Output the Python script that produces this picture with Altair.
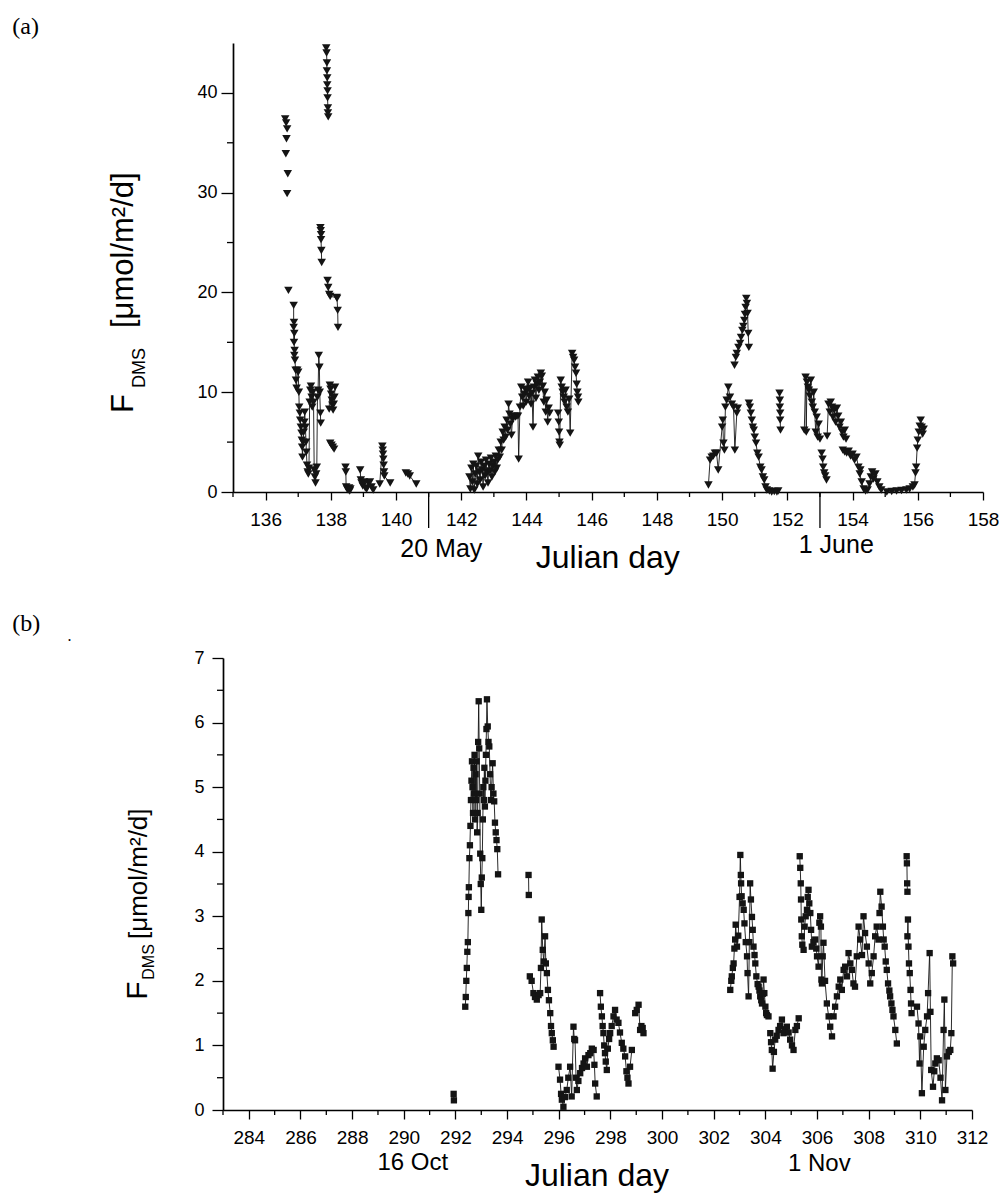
import altair as alt
import pandas as pd

FONT = "Liberation Sans"
SERIF = "Liberation Serif"
INK = "#141414"

# ---------------- Panel (a): Julian day vs F_DMS (umol/m2/d) ----------------
a_isolated = [(136.60, 37.4), (136.63, 37.0), (136.66, 36.4), (136.64, 35.4), (136.62, 33.9),
              (136.68, 31.9), (136.66, 29.9), (136.70, 20.2)]
a_s1 = [(136.86, 18.7), (136.87, 17.0), (136.86, 16.5), (136.88, 15.9), (136.87, 15.0), (136.89, 14.2),
        (136.88, 13.7), (136.90, 13.2), (136.92, 12.2), (136.93, 11.2), (136.95, 10.4), (136.97, 12.2),
        (137.00, 12.0), (137.02, 10.0), (137.03, 8.5), (137.05, 7.9), (137.06, 7.2), (137.08, 6.5),
        (137.10, 5.9), (137.11, 5.2), (137.12, 4.5), (137.13, 3.5), (137.15, 5.0), (137.17, 6.0),
        (137.19, 7.0), (137.20, 8.0), (137.22, 6.5), (137.24, 5.0), (137.25, 4.0), (137.27, 2.7),
        (137.29, 2.0), (137.31, 1.8), (137.33, 2.4), (137.35, 9.0), (137.37, 10.2), (137.39, 10.6),
        (137.41, 9.5), (137.43, 8.5), (137.45, 10.0), (137.47, 9.0), (137.49, 2.2), (137.51, 1.5),
        (137.53, 0.9), (137.55, 1.8), (137.57, 2.5), (137.59, 9.5), (137.61, 10.2), (137.63, 13.7),
        (137.65, 12.5), (137.66, 10.0), (137.68, 7.9), (137.69, 6.9)]
a_s2 = [(137.68, 26.5), (137.69, 26.2), (137.70, 25.8), (137.70, 25.3), (137.71, 24.2), (137.72, 23.0)]
a_s3 = [(137.86, 44.5), (137.87, 44.0), (137.88, 43.0), (137.88, 42.2), (137.89, 41.5), (137.89, 40.8),
        (137.90, 40.2), (137.90, 39.5), (137.91, 38.5), (137.91, 38.0), (137.92, 37.6)]
a_s4 = [(137.90, 21.2), (137.92, 20.5), (137.95, 19.8), (137.98, 19.6), (138.18, 19.5), (138.19, 19.4),
        (138.21, 18.2), (138.22, 16.5)]
a_s5 = [(137.95, 8.3), (137.97, 10.7), (137.99, 10.3), (138.01, 9.8), (138.03, 9.2), (138.05, 8.7),
        (138.07, 8.2), (138.09, 8.8), (138.11, 9.5), (138.13, 10.5)]
a_s6 = [(137.98, 4.9), (138.02, 4.7), (138.06, 4.5), (138.10, 4.3)]
a_s7 = [(138.45, 2.5), (138.46, 2.0), (138.47, 0.5), (138.50, 0.3), (138.53, 0.2), (138.56, 0.4),
        (138.58, 0.1), (138.60, 0.3)]
a_s8 = [(138.90, 2.2), (138.92, 1.2), (138.94, 0.9), (138.98, 0.6), (139.02, 1.0), (139.06, 0.4),
        (139.10, 0.3), (139.15, 0.9), (139.20, 1.0), (139.25, 0.5), (139.30, 0.2)]
a_s9 = [(139.50, 0.8), (139.58, 4.6), (139.59, 4.2), (139.60, 3.8), (139.61, 3.3), (139.62, 2.7),
        (139.63, 2.0), (139.64, 1.6), (139.82, 0.9)]
a_s10 = [(140.30, 1.9), (140.36, 1.8), (140.42, 1.6), (140.62, 0.8)]
a_s11 = [(142.25, 1.5), (142.28, 0.3), (142.31, 2.4), (142.34, 1.0), (142.37, 2.8), (142.40, 0.2),
         (142.43, 1.8), (142.46, 2.6), (142.49, 0.8), (142.52, 3.6), (142.55, 2.0), (142.58, 1.2),
         (142.61, 3.0), (142.64, 2.2), (142.67, 0.5), (142.70, 2.6), (142.73, 1.6), (142.76, 3.2),
         (142.79, 2.0), (142.82, 0.9), (142.85, 2.8), (142.88, 2.1), (142.91, 3.4), (142.94, 1.5),
         (142.97, 2.6), (143.00, 3.0), (143.03, 2.0), (143.06, 3.6), (143.09, 2.4), (143.12, 3.2),
         (143.15, 4.2), (143.18, 3.5), (143.21, 5.0), (143.24, 4.2), (143.27, 6.0), (143.30, 5.2),
         (143.33, 6.5), (143.36, 5.5), (143.39, 7.2), (143.42, 6.2), (143.45, 8.8), (143.48, 7.8),
         (143.51, 6.8), (143.54, 5.7), (143.57, 7.3), (143.60, 7.5), (143.63, 7.6), (143.66, 7.5),
         (143.70, 7.6), (143.74, 7.6), (143.76, 3.3), (143.80, 8.5), (143.84, 10.5), (143.87, 9.5),
         (143.90, 8.6), (143.93, 9.8), (143.96, 10.3), (143.99, 9.0), (144.02, 10.2), (144.05, 11.0),
         (144.08, 9.6), (144.11, 10.4), (144.14, 8.8), (144.17, 9.9), (144.20, 6.5), (144.23, 10.5),
         (144.26, 11.2), (144.29, 9.4), (144.32, 10.8), (144.35, 11.5), (144.38, 10.2), (144.41, 11.0),
         (144.44, 11.9), (144.47, 11.6), (144.50, 10.6), (144.53, 9.0), (144.56, 10.0), (144.59, 8.0),
         (144.62, 9.2), (144.65, 7.0), (144.68, 8.4), (144.71, 7.9)]
a_s12 = [(144.97, 7.9), (144.99, 7.0), (145.00, 6.0), (145.01, 5.0), (145.02, 4.7), (145.05, 11.2),
         (145.08, 10.5), (145.11, 10.0), (145.14, 9.5), (145.17, 9.0), (145.20, 10.2), (145.23, 8.5),
         (145.27, 8.0), (145.31, 9.3), (145.34, 5.9), (145.40, 13.9), (145.43, 13.5), (145.46, 13.2),
         (145.49, 12.5), (145.52, 11.9), (145.54, 10.8), (145.56, 10.0), (145.58, 9.5), (145.59, 9.0)]
a_s13 = [(149.58, 0.7), (149.63, 3.2), (149.68, 3.5), (149.73, 3.6), (149.78, 3.9), (149.83, 3.9),
         (149.88, 2.2), (150.00, 6.5), (150.02, 7.2), (150.04, 4.9), (150.07, 4.2), (150.10, 8.5),
         (150.14, 9.2), (150.19, 10.5), (150.24, 9.5), (150.30, 8.8), (150.35, 8.5), (150.39, 4.2),
         (150.45, 7.9), (150.48, 8.4)]
a_s14 = [(150.38, 12.7), (150.42, 13.5), (150.45, 13.9), (150.50, 14.5), (150.55, 14.9), (150.58, 15.5),
         (150.62, 16.2), (150.65, 16.6), (150.68, 17.2), (150.70, 17.8), (150.72, 18.5), (150.74, 19.4),
         (150.76, 18.9), (150.78, 17.9), (150.80, 15.9), (150.82, 14.5)]
a_s15 = [(150.82, 8.9), (150.85, 8.5), (150.88, 7.9), (150.91, 7.2), (150.94, 6.5), (150.97, 6.2),
         (151.00, 5.5), (151.04, 4.9), (151.08, 3.9), (151.12, 3.5), (151.17, 2.5), (151.21, 2.2),
         (151.25, 1.5), (151.29, 1.2), (151.33, 0.5), (151.37, 0.2), (151.45, 0.1), (151.52, 0.0),
         (151.60, 0.05), (151.68, 0.0), (151.72, 0.1)]
a_s16 = [(151.76, 9.9), (151.77, 9.2), (151.77, 8.5), (151.78, 7.9), (151.78, 7.2), (151.79, 6.2)]
a_s17 = [(152.52, 6.2), (152.56, 11.5), (152.58, 6.0), (152.60, 11.0), (152.63, 10.5), (152.66, 10.2),
         (152.69, 9.6), (152.72, 11.2), (152.75, 9.0), (152.78, 8.5), (152.81, 10.0), (152.84, 8.0),
         (152.87, 6.0), (152.90, 7.5), (152.93, 5.5), (152.96, 6.8), (153.00, 5.3)]
a_s18 = [(153.05, 3.9), (153.08, 3.3), (153.10, 2.5), (153.13, 1.9), (153.16, 1.6), (153.20, 1.2)]
a_s19 = [(153.22, 5.6), (153.26, 8.8), (153.30, 8.0), (153.33, 9.0), (153.37, 8.5), (153.40, 7.5),
         (153.44, 8.2), (153.48, 7.0), (153.52, 8.4), (153.56, 7.6), (153.60, 6.5), (153.64, 7.0),
         (153.68, 6.0), (153.72, 5.5), (153.76, 6.2), (153.80, 5.3)]
a_s20 = [(153.70, 4.2), (153.76, 4.0), (153.82, 3.9), (153.88, 4.1), (153.94, 3.6), (154.00, 3.8),
         (154.06, 3.2), (154.12, 3.5), (154.18, 2.5), (154.24, 2.2)]
a_s21 = [(154.22, 1.8), (154.28, 1.0), (154.34, 0.3), (154.40, 0.1), (154.46, 0.2), (154.52, 0.8),
         (154.56, 1.5), (154.60, 2.0), (154.64, 1.3), (154.70, 1.8), (154.76, 1.0), (154.82, 0.5),
         (154.88, 0.2)]
a_s22 = [(155.05, 0.0), (155.20, 0.05), (155.35, 0.1), (155.50, 0.15), (155.65, 0.2), (155.75, 0.3),
         (155.85, 0.5)]
a_s23 = [(155.90, 0.7), (155.93, 1.9), (155.95, 2.5), (155.98, 4.4), (156.00, 5.2), (156.03, 6.0),
         (156.06, 6.6), (156.09, 7.2), (156.12, 6.5), (156.15, 5.8), (156.18, 6.3)]
a_segments = [a_s1, a_s2, a_s3, a_s4, a_s5, a_s6, a_s7, a_s8, a_s9, a_s10, a_s11, a_s12, a_s13,
              a_s14, a_s15, a_s16, a_s17, a_s18, a_s19, a_s20, a_s21, a_s22, a_s23]

a_major = list(range(136, 159, 2))
a_minor = list(range(135, 158, 2))
a_long = [141, 153]
a_yticks = [0, 10, 20, 30, 40]
a_yminor = [5, 15, 25, 35]

# ---------------- Panel (b) ----------------
b_s0 = [(291.93, 0.25), (291.94, 0.15)]
b_s1 = [(292.38, 1.6), (292.40, 1.75), (292.42, 2.0), (292.44, 2.2), (292.46, 2.45), (292.48, 2.6),
        (292.50, 3.05), (292.51, 3.3), (292.52, 3.45), (292.54, 3.9), (292.56, 4.1), (292.58, 4.4),
        (292.60, 4.8), (292.62, 5.1), (292.64, 5.4), (292.66, 5.0), (292.68, 4.6), (292.70, 5.3),
        (292.72, 4.9), (292.74, 5.5), (292.76, 4.5), (292.78, 5.2), (292.80, 4.8), (292.82, 5.4),
        (292.84, 4.3), (292.86, 4.6), (292.88, 5.7), (292.90, 6.33), (292.92, 5.6), (292.94, 4.9),
        (292.96, 3.97), (292.98, 3.5), (293.00, 3.1), (293.02, 3.6), (293.04, 3.9), (293.06, 4.5),
        (293.08, 5.0), (293.10, 4.8), (293.12, 5.3), (293.14, 4.7), (293.16, 5.1), (293.18, 5.5),
        (293.20, 5.9), (293.22, 6.36), (293.25, 5.94), (293.28, 5.7), (293.31, 5.63), (293.34, 5.2),
        (293.37, 4.8), (293.40, 5.0), (293.44, 5.37), (293.47, 4.9), (293.50, 4.78), (293.53, 4.45),
        (293.56, 4.3), (293.59, 4.18), (293.62, 4.04), (293.65, 3.65)]
b_s2 = [(294.83, 3.64), (294.84, 3.33)]
b_s3 = [(294.88, 2.07), (294.95, 2.0), (295.02, 1.81), (295.08, 1.75), (295.15, 1.71), (295.22, 1.78),
        (295.28, 1.81), (295.31, 2.2), (295.34, 2.95), (295.38, 2.48), (295.42, 2.3), (295.47, 2.69),
        (295.50, 2.27), (295.54, 2.12), (295.58, 1.86), (295.62, 1.7), (295.67, 1.50), (295.70, 1.3),
        (295.73, 1.19), (295.77, 1.08), (295.80, 0.98)]
b_s4 = [(295.99, 0.67), (296.05, 0.47), (296.09, 0.25), (296.12, 0.16), (296.18, 0.05), (296.24, 0.2),
        (296.31, 0.31), (296.37, 0.5), (296.44, 0.67), (296.50, 0.21), (296.57, 1.29), (296.60, 1.1),
        (296.63, 1.08), (296.67, 0.5), (296.70, 0.31), (296.76, 0.45), (296.83, 0.57), (296.90, 0.65),
        (296.96, 0.72), (297.02, 0.8), (297.09, 0.67), (297.15, 0.85), (297.22, 0.88), (297.28, 0.95),
        (297.35, 0.93), (297.38, 0.7), (297.41, 0.41), (297.47, 0.21)]
b_s5 = [(297.60, 1.81), (297.63, 1.6), (297.67, 1.45), (297.70, 1.3), (297.73, 1.19), (297.76, 1.0),
        (297.79, 0.88), (297.82, 0.75), (297.86, 0.62), (297.90, 0.95), (297.95, 1.1), (297.99, 1.19)]
b_s6 = [(298.05, 1.3), (298.12, 1.45), (298.18, 1.55), (298.24, 1.4), (298.31, 1.35), (298.37, 1.2),
        (298.44, 1.04), (298.50, 0.95), (298.57, 0.83), (298.62, 0.6), (298.66, 0.5), (298.70, 0.41),
        (298.76, 0.67), (298.83, 0.93)]
b_s7 = [(298.96, 1.50), (299.02, 1.55), (299.09, 1.63), (299.15, 1.24), (299.20, 1.3), (299.25, 1.27),
        (299.28, 1.19)]
b_s8 = [(302.64, 1.86), (302.68, 2.0), (302.70, 2.07), (302.74, 2.2), (302.77, 2.27), (302.80, 2.5),
        (302.83, 2.64), (302.85, 2.87), (302.90, 2.53), (302.95, 2.7), (303.00, 3.3), (303.03, 3.95),
        (303.05, 3.64), (303.06, 3.51), (303.08, 3.31), (303.12, 3.2), (303.16, 3.10), (303.19, 2.89),
        (303.24, 2.6), (303.29, 2.38), (303.31, 2.12), (303.35, 1.76), (303.38, 2.6), (303.41, 3.51),
        (303.44, 3.26), (303.48, 2.99), (303.51, 2.79), (303.54, 2.53), (303.58, 2.4), (303.61, 2.27),
        (303.65, 2.07), (303.70, 1.95), (303.74, 1.91), (303.77, 1.85), (303.80, 1.76), (303.84, 1.7),
        (303.87, 1.65), (303.90, 1.8), (303.93, 2.02), (303.96, 1.81), (304.00, 1.6), (304.03, 1.5),
        (304.06, 1.47), (304.12, 1.45)]
b_s9 = [(304.19, 1.19), (304.22, 1.05), (304.25, 0.93), (304.28, 0.64), (304.33, 0.9), (304.38, 1.09),
        (304.44, 1.15), (304.51, 1.24), (304.57, 1.3), (304.64, 1.40), (304.70, 1.19), (304.76, 1.25),
        (304.83, 1.29), (304.90, 1.2), (304.96, 1.09), (305.03, 1.0), (305.09, 0.93), (305.16, 1.24),
        (305.22, 1.3), (305.29, 1.42)]
b_s10 = [(305.33, 3.93), (305.35, 3.75), (305.37, 3.51), (305.38, 3.26), (305.39, 2.95), (305.41, 2.69),
         (305.43, 2.56), (305.48, 2.48), (305.52, 2.84), (305.56, 3.0), (305.61, 3.10), (305.64, 3.3),
         (305.67, 3.41), (305.70, 3.2), (305.74, 3.05), (305.77, 2.79), (305.80, 2.53), (305.86, 2.6),
         (305.93, 2.64), (305.97, 2.5), (306.00, 2.38), (306.06, 2.22), (306.09, 2.9), (306.12, 3.0),
         (306.15, 2.84), (306.17, 2.02), (306.19, 1.96), (306.22, 2.38), (306.25, 2.59), (306.31, 2.0),
         (306.38, 1.65), (306.45, 1.45), (306.51, 1.29), (306.58, 1.14)]
b_s11 = [(306.64, 1.45), (306.70, 1.60), (306.77, 1.76), (306.84, 1.91), (306.90, 2.02), (306.96, 1.86),
         (307.03, 2.17), (307.09, 2.22), (307.16, 2.07), (307.22, 2.43), (307.29, 2.27), (307.35, 2.17),
         (307.41, 1.96), (307.47, 1.91), (307.54, 2.38), (307.61, 2.84), (307.67, 2.64), (307.74, 2.4),
         (307.80, 3.0), (307.86, 2.74), (307.93, 2.53), (308.00, 2.27), (308.06, 1.96), (308.12, 2.12),
         (308.19, 2.38), (308.25, 2.69), (308.31, 2.84), (308.38, 2.64)]
b_s12 = [(308.42, 3.05), (308.45, 3.38), (308.50, 3.15), (308.55, 2.84), (308.58, 2.64), (308.62, 2.53),
         (308.66, 2.3), (308.70, 2.17), (308.75, 1.96), (308.80, 1.85), (308.83, 1.76), (308.88, 1.65),
         (308.92, 1.55), (308.96, 1.45), (309.03, 1.24), (309.09, 1.03)]
b_s13 = [(309.47, 3.93), (309.48, 3.82), (309.49, 3.51), (309.50, 3.38)]
b_s14 = [(309.50, 2.69), (309.52, 2.95), (309.54, 2.53), (309.56, 2.27), (309.59, 2.12), (309.62, 1.86),
         (309.64, 1.65), (309.66, 1.50)]
b_s15 = [(309.87, 1.60), (309.93, 1.34), (309.97, 0.72), (310.00, 1.14), (310.06, 0.26), (310.13, 0.98),
         (310.19, 1.24), (310.26, 1.45), (310.30, 1.81), (310.36, 2.43), (310.39, 1.52), (310.42, 0.62),
         (310.49, 0.36), (310.54, 0.6), (310.58, 0.72), (310.64, 0.8), (310.71, 0.77), (310.78, 0.5),
         (310.84, 0.15), (310.90, 1.24), (310.93, 1.71), (310.97, 0.31), (311.03, 0.83), (311.10, 0.9),
         (311.16, 0.93), (311.20, 1.19), (311.24, 2.38), (311.27, 2.27)]
b_segments = [b_s0, b_s1, b_s2, b_s3, b_s4, b_s5, b_s6, b_s7, b_s8, b_s9, b_s10, b_s11, b_s12,
              b_s13, b_s14, b_s15]

b_major = list(range(284, 313, 2))
b_minor = list(range(283, 312, 2))
b_yticks = [0, 1, 2, 3, 4, 5, 6, 7]
b_yminor = [0.5, 1.5, 2.5, 3.5, 4.5, 5.5, 6.5]


def frame(segments, isolated=()):
    rows = []
    for i, seg in enumerate(segments):
        for d, v in seg:
            rows.append({"day": d, "flux": v, "seg": i, "line": True})
    for d, v in isolated:
        rows.append({"day": d, "flux": v, "seg": -1, "line": False})
    return pd.DataFrame(rows)


def label(text, x, y, size, angle=0, align="left", baseline="alphabetic", font=FONT):
    return alt.Chart(pd.DataFrame({"k": [0]})).mark_text(
        text=text, fontSize=size, font=font, angle=angle, align=align,
        baseline=baseline, color="black"
    ).encode(x=alt.value(x), y=alt.value(y))


def panel(df, shape, size, xdom, xrange_, xmajor, xminor, ydom, yticks, yminor,
          w, h, xtick, ytick, xpad, ypad, yoffset, texts, long_ticks=()):
    xs = alt.Scale(domain=xdom, range=xrange_, nice=False, zero=False)
    ys = alt.Scale(domain=ydom, nice=False, zero=False)
    xax = alt.Axis(values=xmajor, format="d", title=None, grid=False, tickSize=xtick,
                   labelFontSize=19, labelFont=FONT, labelPadding=xpad, labelColor="black",
                   domainColor="black", tickColor="black", domainWidth=1.7, tickWidth=1.3,
                   labelOverlap=False, labelFlush=False)
    yax = alt.Axis(values=yticks, format="d", title=None, grid=False, tickSize=ytick,
                   labelFontSize=18, labelFont=FONT, labelPadding=ypad, labelColor="black",
                   domainColor="black", tickColor="black", domainWidth=1.7, tickWidth=1.3,
                   offset=yoffset, labelOverlap=False)
    X = alt.X("day:Q", scale=xs, axis=xax)
    Y = alt.Y("flux:Q", scale=ys, axis=yax)

    lines = alt.Chart(df).transform_filter("datum.line").mark_line(
        color=INK, strokeWidth=0.9).encode(x=X, y=Y, detail="seg:N")
    pts = alt.Chart(df).mark_point(shape=shape, filled=True, size=size, color=INK,
                                   opacity=1).encode(x=X, y=Y)

    xminor_df = pd.DataFrame({"day": xminor})
    xmin_rules = alt.Chart(xminor_df).mark_rule(color="black", strokeWidth=1.3).encode(
        x=X, y=alt.value(h), y2=alt.value(h + 5))
    yminor_df = pd.DataFrame({"flux": yminor})
    x0 = -yoffset
    ymin_rules = alt.Chart(yminor_df).mark_rule(color="black", strokeWidth=1.3).encode(
        y=Y, x=alt.value(x0 - 6), x2=alt.value(x0))
    layers = [lines, pts, xmin_rules, ymin_rules]
    if long_ticks:
        lt = alt.Chart(pd.DataFrame({"day": list(long_ticks)})).mark_rule(
            color="black", strokeWidth=1.3).encode(x=X, y=alt.value(h), y2=alt.value(h + 36))
        layers.append(lt)
    layers += texts
    return alt.layer(*layers).properties(width=w, height=h)


df_a = frame(a_segments, a_isolated)
df_b = frame(b_segments)

texts_a = [
    label("(a)", -210.7, -28, 24, baseline="top", font=SERIF),
    label("F", -89.7, 370, 31, angle=270),
    label("DMS", -77.7, 345, 18, angle=270),
    label("[\u03bcmol/m\u00b2/d]", -89.7, 285, 31, angle=270),
    label("20 May", 218.3, 514.3, 25, align="center"),
    label("Julian day", 384.8, 525, 32, align="center"),
    label("1 June", 613.3, 510.3, 25, align="center"),
]
texts_b = [
    label("(b)", -210.7, -45.7, 24, baseline="top", font=SERIF),
    label(".", -155.5, -17, 16, font=SERIF),
    label("F", -76, 341.7, 30, angle=270),
    label("DMS", -68.7, 321.7, 16, angle=270),
    label("[\u03bcmol/m\u00b2/d]", -76, 281, 26, angle=270),
    label("16 Oct", 189.8, 511.5, 24, align="center"),
    label("Julian day", 374, 528.4, 32, align="center"),
    label("1 Nov", 596.3, 512.5, 24, align="center"),
]

pa = panel(df_a, "triangle-down", 72, [135, 158], [10, 760], a_major, a_minor, [0, 45],
           a_yticks, a_yminor, 760, 449, 8, 12, 10, 4, -10, texts_a, long_ticks=a_long)
pb = panel(df_b, "square", 40, [283, 312], [0, 749], b_major, b_minor, [0, 7],
           b_yticks, b_yminor, 749, 452, 9, 11, 9, 8, 0, texts_b)

chart = alt.vconcat(pa, pb, spacing=166, bounds="flush").properties(
    padding={"left": 12, "top": 15, "right": 0, "bottom": 0},
    background="white",
).configure_view(stroke=None)

chart.save("out.html", embed_options={"renderer": "svg", "actions": False})
